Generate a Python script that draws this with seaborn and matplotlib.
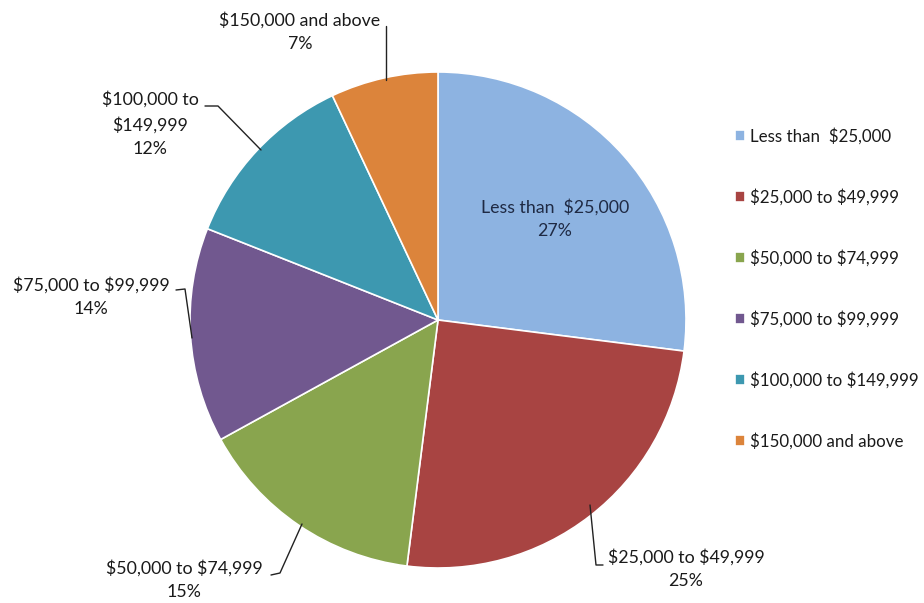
import matplotlib
matplotlib.use("Agg")
import matplotlib.pyplot as plt
import seaborn as sns

# Household income distribution
categories = ["Less than  $25,000", "$25,000 to $49,999", "$50,000 to $74,999",
              "$75,000 to $99,999", "$100,000 to $149,999", "$150,000 and above"]
shares = [27, 25, 15, 14, 12, 7]
colors = ["#8DB3E1", "#A84442", "#89A54E", "#71588F", "#3D98B0", "#DC843B"]

sns.set_theme(style="white")
plt.rcParams["font.family"] = ["Lato", "DejaVu Sans"]
plt.rcParams["text.parse_math"] = False

W, H = 924, 603
fig = plt.figure(figsize=(W / 100, H / 100), dpi=100)
ax = fig.add_axes([0, 0, 1, 1])

cx, cy, r = 438, H - 320, 248
wedges, _ = ax.pie(shares, colors=sns.color_palette(colors), startangle=90,
                   counterclock=False, center=(cx, cy), radius=r,
                   wedgeprops=dict(edgecolor="white", linewidth=1.2), frame=True)
ax.set_xlim(0, W)
ax.set_ylim(0, H)
ax.set_axis_off()
ax.set_aspect("equal")

fs = 12.8
txt = "#1a1a1a"
ls = 1.6

def lbl(i, x, y, name=None):
    name = name if name is not None else categories[i]
    ax.text(x, H - y, f"{name}\n{shares[i]}%", ha="center", va="center",
            fontsize=fs, color=txt, linespacing=ls)

def leader(pts):
    xs = [p[0] for p in pts]
    ys = [H - p[1] for p in pts]
    ax.plot(xs, ys, color="#222222", lw=1.0)

# inside label for the largest slice
ax.text(555, H - 219, f"{categories[0]}\n{shares[0]}%", ha="center", va="center",
        fontsize=fs, color="#1f2a44", linespacing=ls)

lbl(1, 686, 569)
leader([(590, 505), (596, 565), (603, 565)])

lbl(2, 184, 580)
leader([(271, 575), (280, 573), (302, 524)])

lbl(3, 91, 297)
leader([(176, 290), (185, 289), (192, 338)])

lbl(4, 150, 124, name="$100,000 to\n$149,999")
leader([(205, 106), (218, 106), (261, 150)])

lbl(5, 300, 32)
leader([(386, 26), (386, 80)])

leg = ax.legend(wedges, categories, loc="upper left",
                bbox_to_anchor=(728 / W, 1 - 121 / H), bbox_transform=fig.transFigure,
                frameon=False, fontsize=12.2, labelspacing=2.6,
                handlelength=0.6, handleheight=0.6, handletextpad=0.3,
                borderaxespad=0)
for t in leg.get_texts():
    t.set_color(txt)

fig.savefig("out.png", dpi=100, facecolor="white")
